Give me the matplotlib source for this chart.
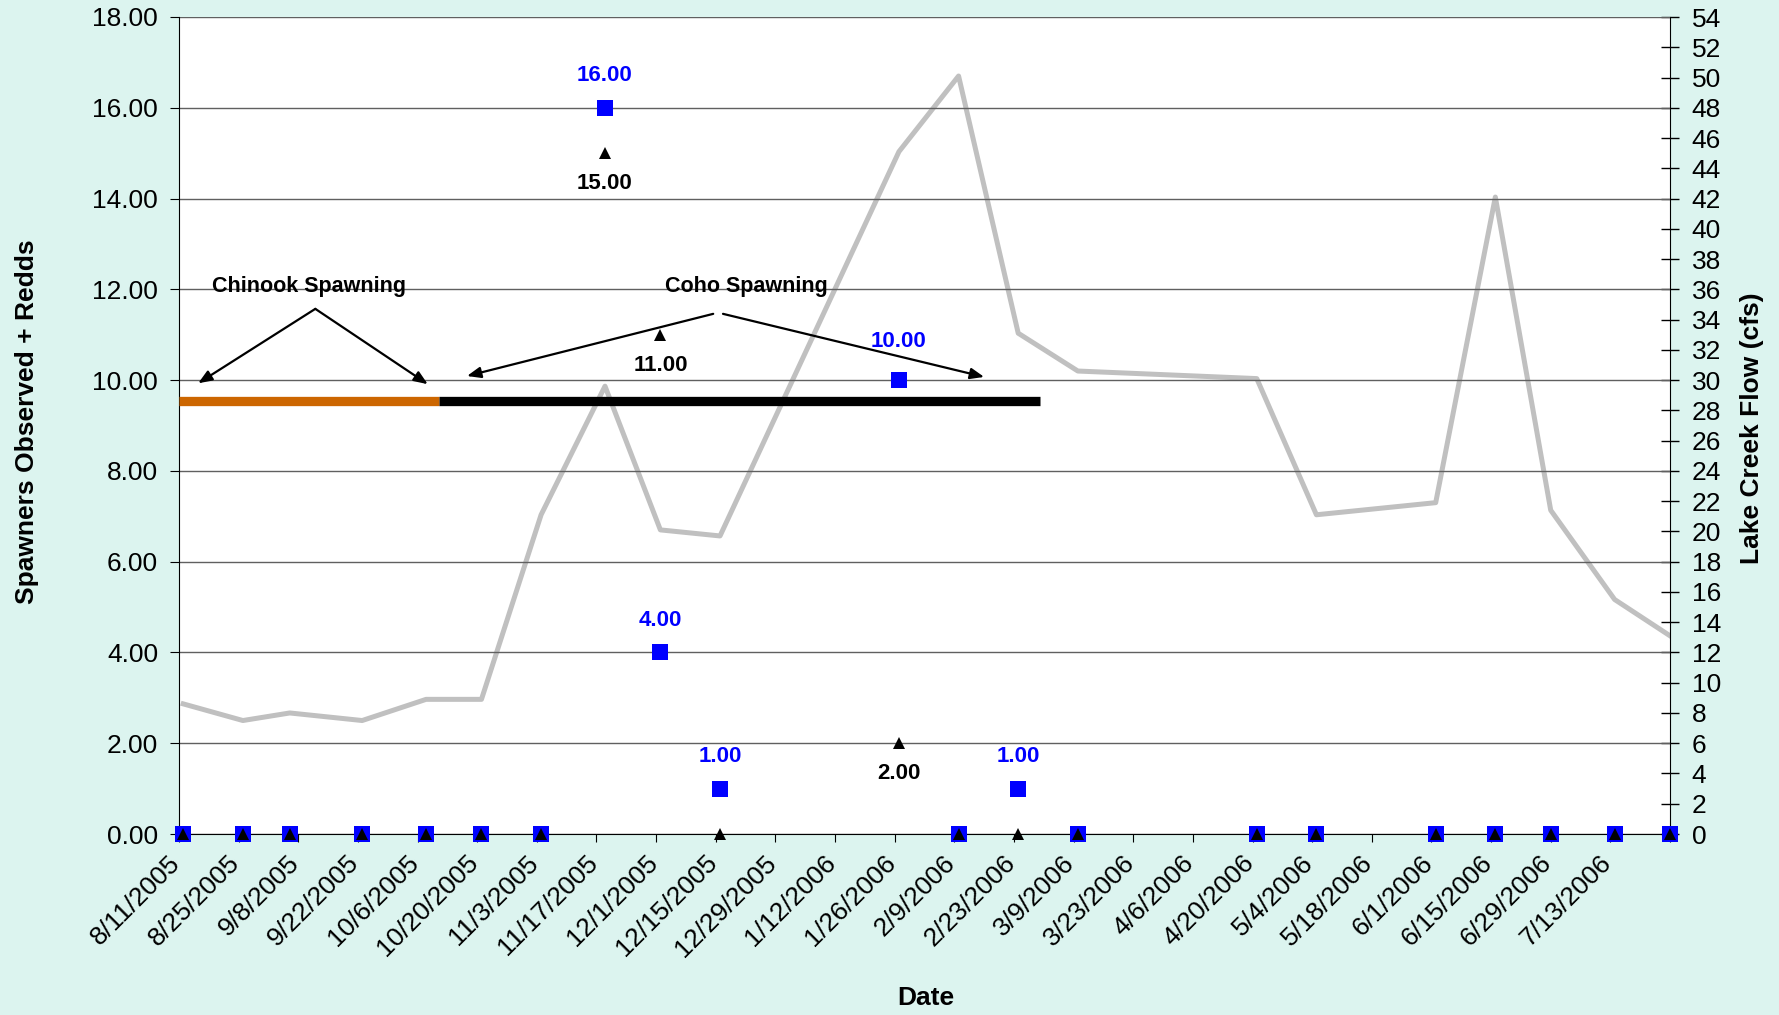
import matplotlib
matplotlib.use('Agg')
import matplotlib.pyplot as plt
import matplotlib.transforms as mtransforms
import pandas as pd

plt.rcParams['font.family'] = ['Liberation Sans', 'DejaVu Sans']

# survey dates and counts
survey_dates = ['2005-08-12', '2005-08-26', '2005-09-06', '2005-09-23', '2005-10-08',
                '2005-10-21', '2005-11-04', '2005-11-19', '2005-12-02', '2005-12-16',
                '2006-01-27', '2006-02-10', '2006-02-24', '2006-03-10', '2006-04-21',
                '2006-05-05', '2006-06-02', '2006-06-16', '2006-06-29', '2006-07-14',
                '2006-07-27']
spawners = [0, 0, 0, 0, 0, 0, 0, 16, 4, 1, 10, 0, 1, 0, 0, 0, 0, 0, 0, 0, 0]
redds = [0, 0, 0, 0, 0, 0, 0, 15, 11, 0, 2, 0, 0, 0, 0, 0, 0, 0, 0, 0, 0]
# Lake Creek flow (cfs)
flow = [8.6, 7.5, 8.0, 7.5, 8.9, 8.9, 21.1, 29.6, 20.1, 19.7, 45.1, 50.1, 33.1,
        30.6, 30.1, 21.1, 21.9, 42.1, 21.4, 15.5, 13.1]

tick_labels = ['8/11/2005', '8/25/2005', '9/8/2005', '9/22/2005', '10/6/2005',
               '10/20/2005', '11/3/2005', '11/17/2005', '12/1/2005', '12/15/2005',
               '12/29/2005', '1/12/2006', '1/26/2006', '2/9/2006', '2/23/2006',
               '3/9/2006', '3/23/2006', '4/6/2006', '4/20/2006', '5/4/2006',
               '5/18/2006', '6/1/2006', '6/15/2006', '6/29/2006', '7/13/2006', '']

# spawning periods
chinook_period = ['2005-08-11', '2005-10-11']
coho_period = ['2005-10-11', '2006-03-01']
period_level = 9.55

dates = pd.to_datetime(survey_dates)
ticks = pd.date_range('2005-08-11', '2006-07-27', freq='14D')
start = pd.Timestamp('2005-08-11')


def day(n):
    return start + pd.Timedelta(days=n)


fig = plt.figure(figsize=(17.79, 10.15), dpi=100, facecolor='#DCF4EF')
ax = fig.add_axes([179 / 1779, 1 - 834 / 1015, 1491 / 1779, 817 / 1015])
ax2 = ax.twinx()
ax.set_zorder(ax2.get_zorder() + 1)
ax.patch.set_visible(False)
ax2.patch.set_visible(True)
ax2.patch.set_facecolor('white')

# flow line
ax2.plot(dates, flow, color='#C0C0C0', lw=3.6)
ax2.set_ylim(0, 54)
ax2.set_yticks(range(0, 55, 2))
ax2.tick_params(axis='y', direction='inout', length=13, width=1, labelsize=19, pad=9)
for s in ['left', 'top', 'bottom']:
    ax2.spines[s].set_visible(False)
ax2.spines['right'].set_color('black')

# grid
ax.set_ylim(0, 18)
ax.set_yticks(range(0, 19, 2))
ax.set_yticklabels(['%.2f' % v for v in range(0, 19, 2)])
ax.grid(axis='y', color='#606060', lw=1)
ax.set_axisbelow(True)
ax.set_xlim(start, pd.Timestamp('2006-07-27'))
ax.set_xticks(ticks)
ax.set_xticklabels(tick_labels, rotation=45, ha='right', rotation_mode='anchor')
ax.tick_params(axis='x', direction='out', length=6, labelsize=19, pad=6)
ax.tick_params(axis='y', direction='out', length=6.5, labelsize=19, pad=8.6)
shift = mtransforms.ScaledTranslation(-0.11, 0.0, fig.dpi_scale_trans)
for lab in ax.get_xticklabels():
    lab.set_transform(lab.get_transform() + shift)
for s in ['top', 'right']:
    ax.spines[s].set_visible(False)

# spawning bars
ax.plot(pd.to_datetime(chinook_period), [period_level] * 2, color='#CC6600', lw=6.7,
        solid_capstyle='butt', zorder=3)
ax.plot(pd.to_datetime(coho_period), [period_level] * 2, color='black', lw=6.7,
        solid_capstyle='butt', zorder=3)

# markers
ax.plot(dates, spawners, ls='none', marker='s', ms=12, mew=0, color='#0000FF',
        clip_on=False, zorder=5)
ax.plot(dates, redds, ls='none', marker='^', ms=9, mew=0, color='black',
        clip_on=False, zorder=6)

for d, v in zip(dates, spawners):
    if v > 0:
        up = 28 if v == 10 else 23
        ax.annotate('%.2f' % v, (d, v), xytext=(0, up), textcoords='offset points',
                    ha='center', va='center', color='#0000FF', fontweight='bold',
                    fontsize=16)
for d, v in zip(dates, redds):
    if v > 0:
        ax.annotate('%.2f' % v, (d, v), xytext=(0, -22), textcoords='offset points',
                    ha='center', va='center', color='black', fontweight='bold',
                    fontsize=16)

# annotations
arrow = dict(arrowstyle='-|>,head_length=0.55,head_width=0.22', color='black',
             lw=1.6, mutation_scale=15, shrinkA=0, shrinkB=0)
ax.text(day(30.5), 12.07, 'Chinook Spawning', ha='center', va='center',
        fontweight='bold', fontsize=15.5)
ax.annotate('', xy=(day(4.5), 9.93), xytext=(day(32), 11.57), arrowprops=arrow)
ax.annotate('', xy=(day(58.4), 9.91), xytext=(day(32), 11.57), arrowprops=arrow)
ax.text(day(133.3), 12.07, 'Coho Spawning', ha='center', va='center',
        fontweight='bold', fontsize=15.5)
ax.annotate('', xy=(day(67.6), 10.09), xytext=(day(125.4), 11.46), arrowprops=arrow)
ax.annotate('', xy=(day(189), 10.07), xytext=(day(127.7), 11.46), arrowprops=arrow)

# axis titles
fig.text(27 / 1779, 1 - 422 / 1015, 'Spawners Observed + Redds', rotation=90,
         ha='center', va='center', fontweight='bold', fontsize=19)
fig.text(1752 / 1779, 1 - 428 / 1015, 'Lake Creek Flow (cfs)', rotation=90,
         ha='center', va='center', fontweight='bold', fontsize=19)
fig.text(926 / 1779, 1 - 998 / 1015, 'Date', ha='center', va='center',
         fontweight='bold', fontsize=19)

fig.savefig('out.png', dpi=100, facecolor=fig.get_facecolor())
